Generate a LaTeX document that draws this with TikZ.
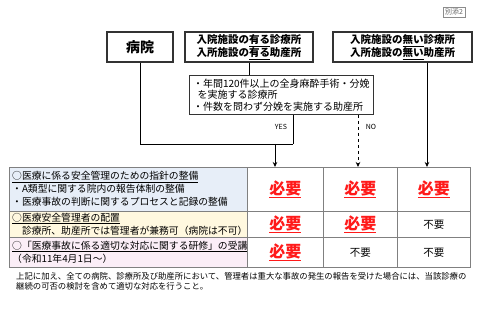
\documentclass[tikz,border=0pt]{standalone}
\usepackage{fontspec}
\setmainfont{Noto Sans CJK JP}
\usetikzlibrary{arrows.meta}
\definecolor{rowblue}{HTML}{E7EEF8}
\definecolor{rowyellow}{HTML}{FFF8DF}
\definecolor{rowpink}{HTML}{FBEEF7}
\definecolor{needred}{HTML}{FF1A1A}
\newcommand{\needtxt}{\textcolor{needred}{\bfseries\fontsize{16}{16}\selectfont\underline{必要}}}
\begin{document}
\begin{tikzpicture}[x=1pt,y=-1pt,
  hdr/.style={draw=black!80,line width=1.1pt,inner sep=0pt,align=center,
    font=\bfseries\fontsize{10.5}{13}\selectfont},
  cell/.style={draw=black!50,line width=0.9pt,anchor=north west,inner sep=0pt},
  lbl/.style={font=\fontsize{9.8}{12.8}\selectfont,align=left,text width=250pt},
  conn/.style={draw=black,line width=0.8pt},
  arr/.style={conn,-{Stealth[length=5pt,width=4.5pt]}}]
\useasboundingbox (0,0) rectangle (480,320);
% annex label
\node[draw=black!45,line width=0.5pt,inner sep=2pt,text=black!60,font=\fontsize{7}{7}\selectfont] (annex) at (454,12) {別添2};
% header boxes
\node[hdr,minimum width=66pt,minimum height=30pt,font=\bfseries\fontsize{14}{14}\selectfont] (hosp) at (140,47) {病院};
\node[hdr,minimum width=128pt,minimum height=30pt] (withbed) at (249,47) {入院施設の\underline{有る}診療所\\入所施設の\underline{有る}助産所};
\node[hdr,minimum width=139pt,minimum height=30pt] (nobed) at (402.5,47) {入院施設の\underline{無い}診療所\\入所施設の\underline{無い}助産所};
% condition box
\node[draw=black!80,line width=0.8pt,anchor=north west,minimum width=184pt,minimum height=39pt,inner sep=3pt,align=left,font=\fontsize{10}{11.5}\selectfont] (cond) at (189,75) {・年間120件以上の全身麻酔手術・分娩\\\ \ を実施する診療所\\・件数を問わず分娩を実施する助産所};
% table
\node[cell,fill=rowblue,minimum width=238pt,minimum height=44pt] (r1c1) at (9,167) {};
\node[cell,fill=rowyellow,minimum width=238pt,minimum height=26pt] (r2c1) at (9,211) {};
\node[cell,fill=rowpink,minimum width=238pt,minimum height=30pt] (r3c1) at (9,237) {};
\node[lbl,anchor=west,inner sep=0pt] (t1) at (12,189) {\underline{○医療に係る安全管理のための指針の整備}\\・A類型に関する院内の報告体制の整備\\・医療事故の判断に関するプロセスと記録の整備};
\node[lbl,anchor=west,inner sep=0pt] (t2) at (12,224) {\underline{○医療安全管理者の配置}\\　診療所、助産所では管理者が兼務可（病院は不可）};
\node[lbl,anchor=west,inner sep=0pt] (t3) at (12,252) {\underline{○「医療事故に係る適切な対応に関する研修」の受講}\\（令和11年4月1日～）};
\node[cell,minimum width=76pt,minimum height=44pt] (r1c2) at (247,167) {\needtxt};
\node[cell,minimum width=74pt,minimum height=44pt] (r1c3) at (323,167) {\needtxt};
\node[cell,minimum width=73pt,minimum height=44pt] (r1c4) at (397,167) {\needtxt};
\node[cell,minimum width=76pt,minimum height=26pt] (r2c2) at (247,211) {\needtxt};
\node[cell,minimum width=74pt,minimum height=26pt] (r2c3) at (323,211) {\needtxt};
\node[cell,minimum width=73pt,minimum height=26pt,font=\fontsize{10.5}{10.5}\selectfont] (r2c4) at (397,211) {不要};
\node[cell,minimum width=76pt,minimum height=30pt] (r3c2) at (247,237) {\needtxt};
\node[cell,minimum width=74pt,minimum height=30pt,font=\fontsize{10.5}{10.5}\selectfont] (r3c3) at (323,237) {不要};
\node[cell,minimum width=73pt,minimum height=30pt,font=\fontsize{10.5}{10.5}\selectfont] (r3c4) at (397,237) {不要};
% connectors
\coordinate (yesturn) at (293,144);
\coordinate (yesdrop) at (275,144);
\coordinate (nox) at (358,0);
\coordinate (nobx) at (427,0);
\draw[conn] (hosp.south) |- (yesturn);
\draw[conn] (cond.south -| yesturn) -- (yesturn);
\draw[arr] (yesdrop) -- (yesdrop |- r1c2.north);
\draw[conn] (withbed.south) -- (withbed.south |- cond.north);
\draw[arr,dashed] (cond.south -| nox) -- (nox |- r1c3.north);
\draw[arr] (nobed.south -| nobx) -- (nobx |- r1c4.north);
\node[font=\fontsize{7}{7}\selectfont] (yes) at (281,127) {YES};
\node[font=\fontsize{7}{7}\selectfont] (no) at (371,127) {NO};
% footnote
\node[anchor=north west,inner sep=0pt,align=left,font=\fontsize{8.35}{10.5}\selectfont] (note) at (16,272) {上記に加え、全ての病院、診療所及び助産所において、管理者は重大な事故の発生の報告を受けた場合には、当該診療の\\継続の可否の検討を含めて適切な対応を行うこと。};
\end{tikzpicture}
\end{document}
